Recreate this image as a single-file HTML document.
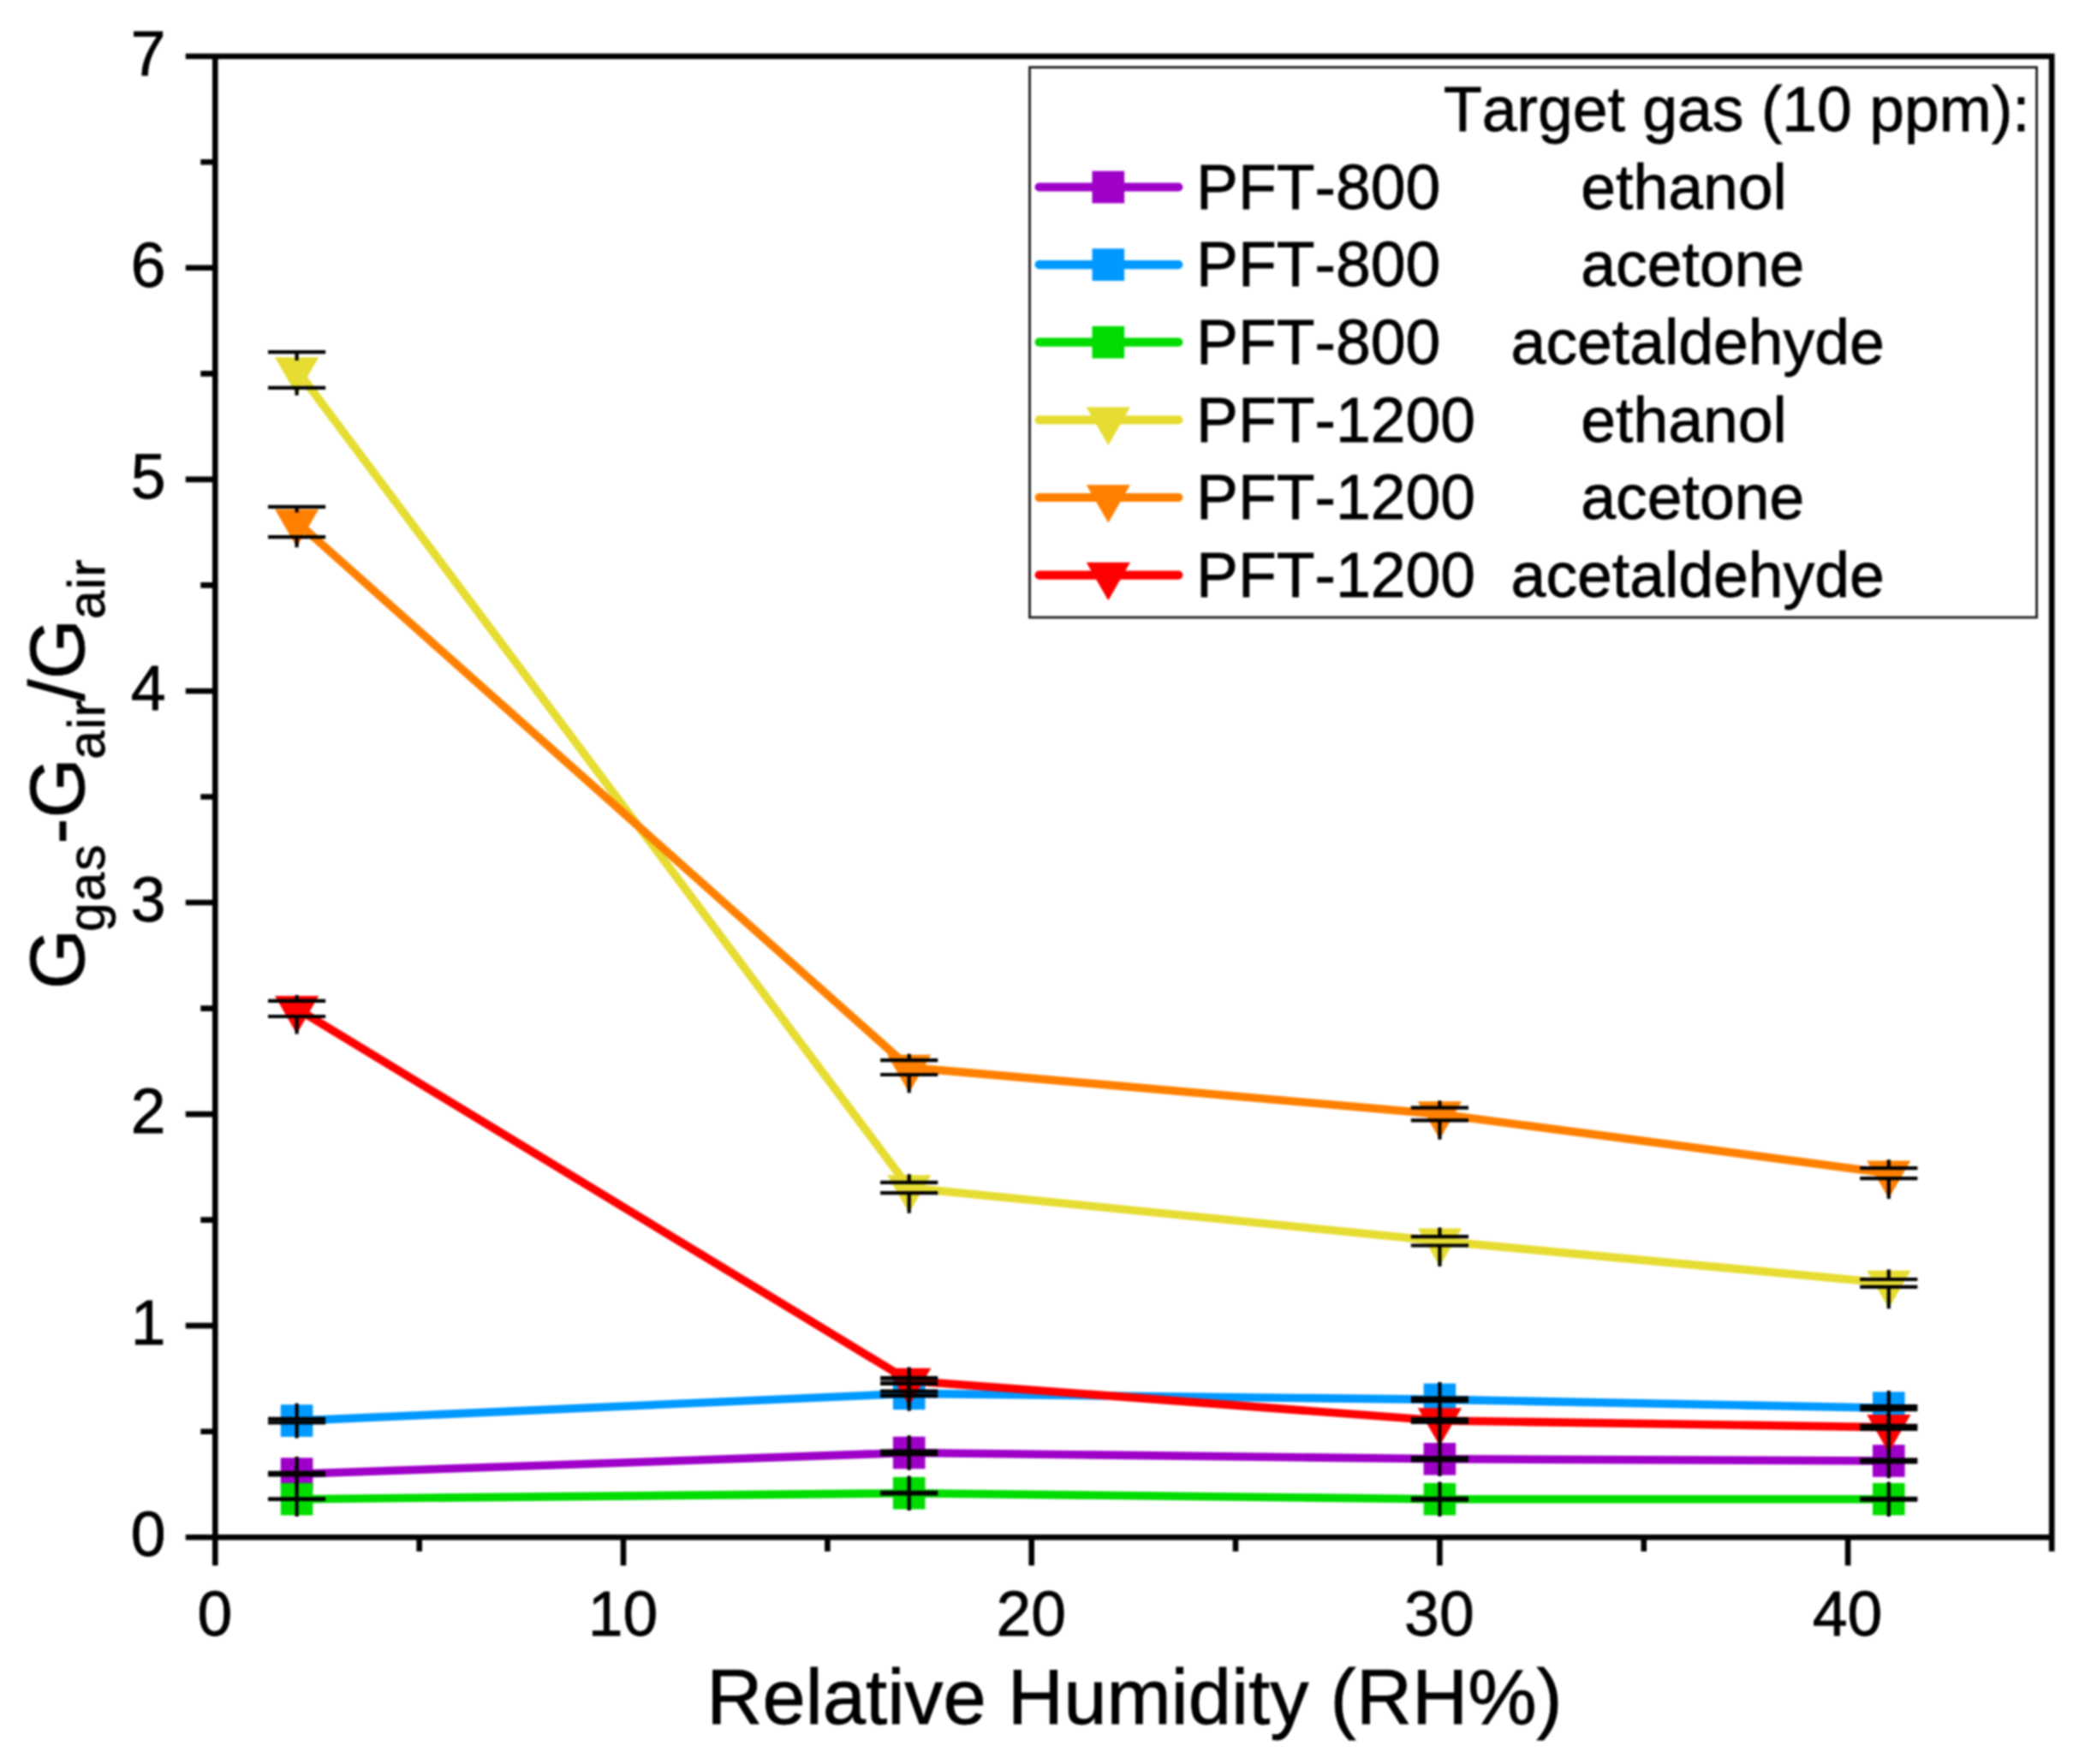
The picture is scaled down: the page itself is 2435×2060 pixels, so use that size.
<!DOCTYPE html>
<html lang="en"><head><meta charset="utf-8"><title>Gas response vs relative humidity</title>
<style>html,body{margin:0;padding:0;background:#fff}body{width:2435px;height:2060px;overflow:hidden}svg{display:block}svg{filter:blur(0.8px)}text{font-family:"Liberation Sans", Arial, Helvetica, sans-serif;fill:#000;stroke:#000;stroke-width:0.8px;font-kerning:none;font-variant-ligatures:none}</style></head><body>
<svg width="2435" height="2060" viewBox="0 0 2435 2060">
<rect width="2435" height="2060" fill="#fff"/>
<g id="series" stroke-linejoin="round" stroke-linecap="round" fill="none">
<polyline points="346.6,1721.2 1061.7,1696.5 1681.4,1703.8 2205.8,1706.0" stroke="#9E00C8" stroke-width="9.6"/>
<rect x="327.8" y="1702.4" width="37.6" height="37.6" fill="#9E00C8"/>
<rect x="1042.9" y="1677.7" width="37.6" height="37.6" fill="#9E00C8"/>
<rect x="1662.6" y="1685.0" width="37.6" height="37.6" fill="#9E00C8"/>
<rect x="2187.0" y="1687.2" width="37.6" height="37.6" fill="#9E00C8"/>
<polyline points="346.6,1659.1 1061.7,1627.4 1681.4,1634.4 2205.8,1644.2" stroke="#0099FF" stroke-width="9.6"/>
<rect x="327.8" y="1640.3" width="37.6" height="37.6" fill="#0099FF"/>
<rect x="1042.9" y="1608.6" width="37.6" height="37.6" fill="#0099FF"/>
<rect x="1662.6" y="1615.6" width="37.6" height="37.6" fill="#0099FF"/>
<rect x="2187.0" y="1625.4" width="37.6" height="37.6" fill="#0099FF"/>
<polyline points="346.6,1750.7 1061.7,1743.7 1681.4,1750.7 2205.8,1750.7" stroke="#00DC00" stroke-width="9.6"/>
<rect x="327.8" y="1731.9" width="37.6" height="37.6" fill="#00DC00"/>
<rect x="1042.9" y="1724.9" width="37.6" height="37.6" fill="#00DC00"/>
<rect x="1662.6" y="1731.9" width="37.6" height="37.6" fill="#00DC00"/>
<rect x="2187.0" y="1731.9" width="37.6" height="37.6" fill="#00DC00"/>
<polyline points="346.6,432.0 1061.7,1387.1 1681.4,1449.3 2205.8,1498.5" stroke="#E6DC32" stroke-width="9.6"/>
<polygon points="321.0,417.2 372.2,417.2 346.6,461.5" fill="#E6DC32"/>
<polygon points="1036.1,1372.3 1087.3,1372.3 1061.7,1416.6" fill="#E6DC32"/>
<polygon points="1655.8,1434.6 1707.0,1434.6 1681.4,1478.9" fill="#E6DC32"/>
<polygon points="2180.2,1483.7 2231.4,1483.7 2205.8,1528.0" fill="#E6DC32"/>
<polyline points="346.6,609.5 1061.7,1246.6 1681.4,1301.1 2205.8,1370.2" stroke="#FF8000" stroke-width="9.6"/>
<polygon points="321.0,594.7 372.2,594.7 346.6,639.0" fill="#FF8000"/>
<polygon points="1036.1,1231.8 1087.3,1231.8 1061.7,1276.2" fill="#FF8000"/>
<polygon points="1655.8,1286.3 1707.0,1286.3 1681.4,1330.6" fill="#FF8000"/>
<polygon points="2180.2,1355.4 2231.4,1355.4 2205.8,1399.8" fill="#FF8000"/>
<polyline points="346.6,1177.9 1061.7,1612.5 1681.4,1659.0 2205.8,1666.8" stroke="#FF0000" stroke-width="9.6"/>
<polygon points="321.0,1163.1 372.2,1163.1 346.6,1207.5" fill="#FF0000"/>
<polygon points="1036.1,1597.7 1087.3,1597.7 1061.7,1642.1" fill="#FF0000"/>
<polygon points="1655.8,1644.2 1707.0,1644.2 1681.4,1688.6" fill="#FF0000"/>
<polygon points="2180.2,1652.0 2231.4,1652.0 2205.8,1696.4" fill="#FF0000"/>
</g>
<g id="errorbars" stroke="#000" stroke-width="4.2" stroke-linecap="butt">
<path d="M313.0 1719.9H380.2M313.0 1722.5H380.2M346.6 1700.9V1719.9M346.6 1722.5V1741.5"/>
<path d="M1028.1 1694.7H1095.3M1028.1 1698.3H1095.3M1061.7 1676.2V1694.7M1061.7 1698.3V1716.8"/>
<path d="M1647.8 1702.3H1715.0M1647.8 1705.3H1715.0M1681.4 1683.5V1702.3M1681.4 1705.3V1724.1"/>
<path d="M2172.2 1704.5H2239.4M2172.2 1707.5H2239.4M2205.8 1685.7V1704.5M2205.8 1707.5V1726.3"/>
<path d="M313.0 1656.9H380.2M313.0 1661.3H380.2M346.6 1638.8V1656.9M346.6 1661.3V1679.4"/>
<path d="M1028.1 1624.7H1095.3M1028.1 1630.1H1095.3M1061.7 1607.1V1624.7M1061.7 1630.1V1647.7"/>
<rect x="1028.1" y="1626.6" width="67.2" height="1.6" fill="#000" fill-opacity="0.62" stroke="none"/>
<path d="M1647.8 1632.6H1715.0M1647.8 1636.2H1715.0M1681.4 1614.1V1632.6M1681.4 1636.2V1654.7"/>
<path d="M2172.2 1642.2H2239.4M2172.2 1646.2H2239.4M2205.8 1623.9V1642.2M2205.8 1646.2V1664.5"/>
<path d="M313.0 1750.4H380.2M313.0 1751.0H380.2M346.6 1730.4V1750.4M346.6 1751.0V1771.0"/>
<path d="M1028.1 1742.9H1095.3M1028.1 1744.5H1095.3M1061.7 1723.4V1742.9M1061.7 1744.5V1764.0"/>
<path d="M1647.8 1749.8H1715.0M1647.8 1751.6H1715.0M1681.4 1730.4V1749.8M1681.4 1751.6V1771.0"/>
<path d="M2172.2 1749.8H2239.4M2172.2 1751.6H2239.4M2205.8 1730.4V1749.8M2205.8 1751.6V1771.0"/>
<path d="M313.0 411.1H380.2M313.0 452.8H380.2M346.6 411.1V420.9M346.6 452.8V461.7"/>
<path d="M1028.1 1380.9H1095.3M1028.1 1393.2H1095.3M1061.7 1371.2V1380.9M1061.7 1393.2V1416.8"/>
<path d="M1647.8 1444.2H1715.0M1647.8 1454.5H1715.0M1681.4 1433.4V1444.2M1681.4 1454.5V1479.0"/>
<path d="M2172.2 1494.0H2239.4M2172.2 1502.9H2239.4M2205.8 1482.5V1494.0M2205.8 1502.9V1528.2"/>
<path d="M313.0 591.8H380.2M313.0 627.1H380.2M346.6 591.8V598.4M346.6 627.1V639.2"/>
<path d="M1028.1 1238.2H1095.3M1028.1 1255.0H1095.3M1061.7 1230.7V1238.2M1061.7 1255.0V1276.3"/>
<path d="M1647.8 1293.7H1715.0M1647.8 1308.4H1715.0M1681.4 1285.2V1293.7M1681.4 1308.4V1330.8"/>
<path d="M2172.2 1364.2H2239.4M2172.2 1376.2H2239.4M2205.8 1354.3V1364.2M2205.8 1376.2V1399.9"/>
<path d="M313.0 1168.8H380.2M313.0 1187.0H380.2M346.6 1162.0V1168.8M346.6 1187.0V1207.6"/>
<path d="M1028.1 1609.1H1095.3M1028.1 1615.9H1095.3M1061.7 1596.6V1609.1M1061.7 1615.9V1642.2"/>
<rect x="1028.1" y="1611.0" width="67.2" height="3.0" fill="#000" fill-opacity="0.62" stroke="none"/>
<path d="M1647.8 1657.0H1715.0M1647.8 1661.0H1715.0M1681.4 1643.1V1657.0M1681.4 1661.0V1688.7"/>
<path d="M2172.2 1664.8H2239.4M2172.2 1668.8H2239.4M2205.8 1650.9V1664.8M2205.8 1668.8V1696.5"/>
</g>
<g id="axes" stroke="#000" stroke-width="6.6" fill="none" stroke-linecap="butt">
<path d="M216.8 65.8H2399.5M2396.2 65.8V1811.7M216.8 1795.2H2399.5M251.3 62.5V1828.2"/>
<path d="M216.8 1548.1H251.3M216.8 1301.1H251.3M216.8 1054.0H251.3M216.8 807.0H251.3M216.8 559.9H251.3M216.8 312.8H251.3M234.3 1671.7H251.3M234.3 1424.6H251.3M234.3 1177.6H251.3M234.3 930.5H251.3M234.3 683.4H251.3M234.3 436.4H251.3M234.3 189.3H251.3M728.0 1795.2V1828.2M1204.7 1795.2V1828.2M1681.4 1795.2V1828.2M2158.1 1795.2V1828.2M489.7 1795.2V1811.7M966.4 1795.2V1811.7M1443.0 1795.2V1811.7M1919.8 1795.2V1811.7"/>
</g>
<g id="ticklabels" font-size="73.33">
<text x="193.6" y="1817.2" text-anchor="end">0</text>
<text x="193.6" y="1570.1" text-anchor="end">1</text>
<text x="193.6" y="1323.1" text-anchor="end">2</text>
<text x="193.6" y="1076.0" text-anchor="end">3</text>
<text x="193.6" y="829.0" text-anchor="end">4</text>
<text x="193.6" y="581.9" text-anchor="end">5</text>
<text x="193.6" y="334.8" text-anchor="end">6</text>
<text x="193.6" y="87.8" text-anchor="end">7</text>
<text x="250.8" y="1910" text-anchor="middle">0</text>
<text x="727.5" y="1910" text-anchor="middle">10</text>
<text x="1204.2" y="1910" text-anchor="middle">20</text>
<text x="1680.9" y="1910" text-anchor="middle">30</text>
<text x="2157.6" y="1910" text-anchor="middle">40</text>
</g>
<text id="xtitle" x="825.2" y="2012.6" font-size="90.4">Relative Humidity (RH%)</text>
<text id="ytitle" transform="translate(97.7 1155.3) rotate(-90)" font-size="90.4">G<tspan font-size="60.4" dy="24" dx="-3" letter-spacing="2">gas</tspan><tspan dy="-24" dx="-1">-G</tspan><tspan font-size="60.4" dy="24" dx="-1.5" letter-spacing="1.25">air</tspan><tspan dy="-24" dx="-2.6">/G</tspan><tspan font-size="60.4" dy="24" letter-spacing="1.25">air</tspan></text>
<g id="legend">
<rect x="1202.5" y="78.6" width="1176.1" height="642.4" fill="#fff" stroke="#1c1c1c" stroke-width="2.8"/>
<text x="1686" y="153.4" font-size="73.33">Target gas (10 ppm):</text>
<line x1="1213.6" y1="218.5" x2="1376.3" y2="218.5" stroke="#9E00C8" stroke-width="10.2" stroke-linecap="round"/>
<rect x="1275.5" y="199.7" width="37.6" height="37.6" fill="#9E00C8"/>
<text y="243.8" font-size="73.33"><tspan x="1397">PFT-800</tspan><tspan x="1846.3">ethanol</tspan></text>
<line x1="1213.6" y1="309.1" x2="1376.3" y2="309.1" stroke="#0099FF" stroke-width="10.2" stroke-linecap="round"/>
<rect x="1275.5" y="290.3" width="37.6" height="37.6" fill="#0099FF"/>
<text y="334.4" font-size="73.33"><tspan x="1397">PFT-800</tspan><tspan x="1846.3">acetone</tspan></text>
<line x1="1213.6" y1="399.7" x2="1376.3" y2="399.7" stroke="#00DC00" stroke-width="10.2" stroke-linecap="round"/>
<rect x="1275.5" y="380.9" width="37.6" height="37.6" fill="#00DC00"/>
<text y="425.0" font-size="73.33"><tspan x="1397">PFT-800</tspan><tspan x="1764.6">acetaldehyde</tspan></text>
<line x1="1213.6" y1="490.4" x2="1376.3" y2="490.4" stroke="#E6DC32" stroke-width="10.2" stroke-linecap="round"/>
<polygon points="1268.7,475.6 1319.9,475.6 1294.3,519.9" fill="#E6DC32"/>
<text y="515.7" font-size="73.33"><tspan x="1397">PFT-1200</tspan><tspan x="1846.3">ethanol</tspan></text>
<line x1="1213.6" y1="581.0" x2="1376.3" y2="581.0" stroke="#FF8000" stroke-width="10.2" stroke-linecap="round"/>
<polygon points="1268.7,566.2 1319.9,566.2 1294.3,610.5" fill="#FF8000"/>
<text y="606.3" font-size="73.33"><tspan x="1397">PFT-1200</tspan><tspan x="1846.3">acetone</tspan></text>
<line x1="1213.6" y1="671.6" x2="1376.3" y2="671.6" stroke="#FF0000" stroke-width="10.2" stroke-linecap="round"/>
<polygon points="1268.7,656.8 1319.9,656.8 1294.3,701.2" fill="#FF0000"/>
<text y="696.9" font-size="73.33"><tspan x="1397">PFT-1200</tspan><tspan x="1764.6">acetaldehyde</tspan></text>
</g>
</svg></body></html>
